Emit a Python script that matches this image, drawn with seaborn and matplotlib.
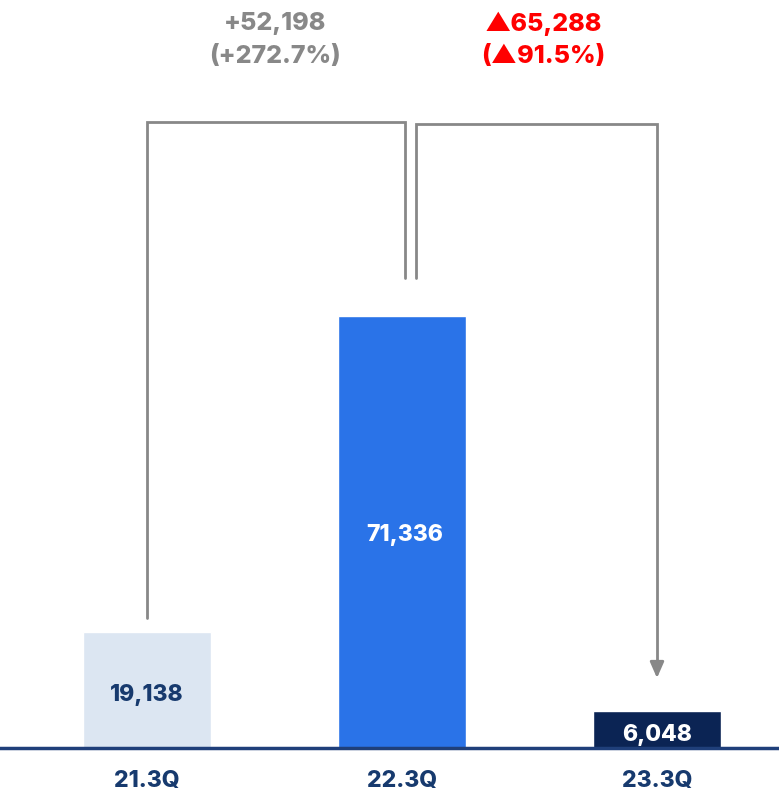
import matplotlib
matplotlib.use("Agg")
import matplotlib.pyplot as plt
import seaborn as sns
import pandas as pd

quarters = ["21.3Q", "22.3Q", "23.3Q"]
values = [19138, 71336, 6048]
bar_colors = ["#dce6f2", "#2a73e8", "#0b2454"]
label_colors = ["#173a6e", "white", "white"]
change1 = ["+52,198", "(+272.7%)"]
change2 = ["▲65,288", "(▲91.5%)"]

sns.set_theme(style="white")
plt.rcParams["font.family"] = ["Inter", "DejaVu Sans"]

navy = "#173a6e"
gray = "#888888"
red = "#ff0000"
W = "heavy"

fig = plt.figure(figsize=(7.79, 7.92), dpi=100)
ax = fig.add_axes([0, 44 / 792, 1, 748 / 792])

df = pd.DataFrame({"q": quarters, "v": values})
sns.barplot(data=df, x="q", y="v", hue="q", palette=bar_colors, width=0.5,
            legend=False, ax=ax, saturation=1)

vmax = max(values)
ax.set_ylim(0, vmax * 748 / 432)
ax.set_xlim(-147 / 255, 2 + 122 / 255)

for s in ["top", "left", "right"]:
    ax.spines[s].set_visible(False)
ax.spines["bottom"].set_color("#1f3f7a")
ax.spines["bottom"].set_linewidth(2.5)
ax.set_xlabel("")
ax.set_ylabel("")
ax.set_yticks([])
ax.tick_params(axis="x", length=0, pad=16)
for t in ax.get_xticklabels():
    t.set_fontweight(W)
    t.set_fontsize(16.5)
    t.set_color(navy)

# value labels
for i, (v, c) in enumerate(zip(values, label_colors)):
    if i == 1:
        y = v * 0.50
        xoff = 0.01
    else:
        y = v / 2 - 450
        xoff = 0
    ax.text(i + xoff, y, f"{v:,}", ha="center", va="center_baseline", color=c,
            fontsize=16.5, fontweight=W)

# connectors
top = vmax * 1.449
lw = 2
ax.plot([0, 0, 1.01, 1.01], [values[0] + 2300, top, top, values[1] + 6300],
        color=gray, lw=lw, solid_joinstyle="miter")
top2 = vmax * 1.445
ax.plot([1.053, 1.053, 2, 2], [values[1] + 6300, top2, top2, values[2] + 8000],
        color=gray, lw=lw, solid_joinstyle="miter")
ax.annotate("", xy=(2, values[2] + 5500), xytext=(2, values[2] + 8200),
            arrowprops=dict(arrowstyle="-|>,head_width=0.35,head_length=0.8",
                            color=gray, lw=lw, shrinkA=0, shrinkB=0))

# change annotations
for txt, yy in zip(change1, [1.676, 1.600]):
    ax.text(0.503, vmax * yy, txt, ha="center", va="center",
            color=gray, fontsize=18, fontweight=W)
for txt, yy in zip(change2, [1.676, 1.600]):
    ax.text(1.555, vmax * yy, txt, ha="center", va="center",
            color=red, fontsize=18, fontweight=W)

fig.savefig("out.png", dpi=100)
